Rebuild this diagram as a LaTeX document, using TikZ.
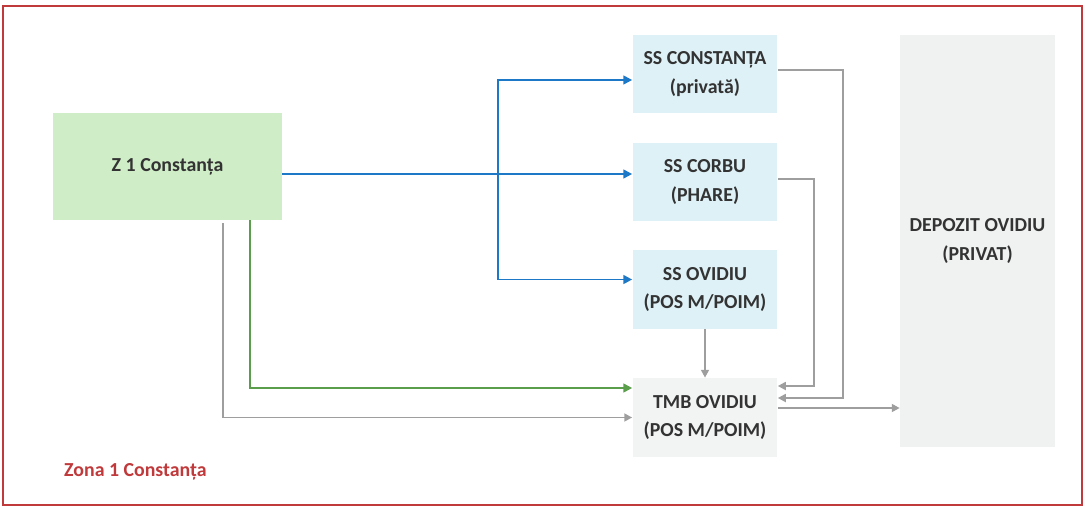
\documentclass[tikz,border=0pt]{standalone}
\usepackage{fontspec}
\setmainfont{Carlito}
\usepackage{xcolor}
\usepackage{tikz}
\usetikzlibrary{arrows.meta, positioning, calc}

\definecolor{zonered}{HTML}{C0393B}
\definecolor{zgreen}{HTML}{CFEDC6}
\definecolor{sscyan}{HTML}{DDF1F6}
\definecolor{tmbgrey}{HTML}{F2F3F3}
\definecolor{depgrey}{HTML}{F0F1F1}
\definecolor{flowblue}{HTML}{1E78C8}
\definecolor{flowgreen}{HTML}{5A9E4B}
\definecolor{flowgrey}{HTML}{9E9E9E}

\begin{document}
\begin{tikzpicture}[x=0.02cm,y=-0.02cm,
                    font=\fontsize{11.3}{16}\selectfont\bfseries,
                    text=black!80,
                    box/.style={inner sep=0pt,align=center,minimum width=2.9cm,minimum height=1.58cm},
                    ss box/.style={box,fill=sscyan},
                    blue flow/.style={draw=flowblue,line width=1.1pt,-{Triangle[length=5pt,width=5pt]}},
                    green flow/.style={draw=flowgreen,line width=1.1pt,-{Triangle[length=5pt,width=5pt]}},
                    grey flow/.style={draw=flowgrey,line width=1.1pt,-{Triangle[length=4.5pt,width=4.5pt]}}]

  \useasboundingbox (0,0) rectangle (1085,510);
  \draw[zonered,line width=1.2pt] (3,6) rectangle (1082,505);

  \node[box,fill=zgreen,minimum width=4.58cm,minimum height=2.14cm] (z1) at (167.5,166.5) {Z 1 Constanța};

  \node[ss box] (constanta) at (705,74) {SS CONSTANȚA\\(privată)};
  \node[ss box] (corbu) at (705,182) {SS CORBU\\(PHARE)};
  \node[ss box] (ovidiu) at (705,289.5) {SS OVIDIU\\(POS M/POIM)};
  \node[box,fill=tmbgrey] (tmb) at (705,417.5) {TMB OVIDIU\\(POS M/POIM)};

  \node[box,fill=depgrey,minimum width=3.1cm,minimum height=8.24cm] (depozit) at (977.5,241) {DEPOZIT OVIDIU\\(PRIVAT)};

  \node[anchor=west,text=zonered] (zona) at (58,472) {Zona 1 Constanța};

  % colectare din zona
  \coordinate (split) at (498,174);
  \draw[blue flow] (z1.east |- split) -- (corbu.west |- split);
  \draw[blue flow] (split) |- ([yshift=-0.12cm]constanta.west);
  \draw[blue flow] (split) |- ([yshift=0.2cm]ovidiu.west);

  \draw[green flow] ([xshift=1.65cm]z1.south) |- ([yshift=0.59cm]tmb.west);
  \draw[grey flow] ([xshift=1.11cm,yshift=-0.06cm]z1.south) |- (tmb.west);

  % statii de sortare catre TMB
  \draw[grey flow] ([yshift=0.08cm]constanta.east) -- ++(65,0) |- ([yshift=0.39cm]tmb.east);
  \draw[grey flow] ([yshift=0.06cm]corbu.east) -- ++(36,0) |- ([yshift=0.63cm]tmb.east);
  \draw[grey flow] (ovidiu) -- (tmb);

  \coordinate (tmbout) at ([yshift=0.19cm]tmb.east);
  \draw[grey flow] (tmbout) -- (depozit.west |- tmbout);

\end{tikzpicture}
\end{document}
